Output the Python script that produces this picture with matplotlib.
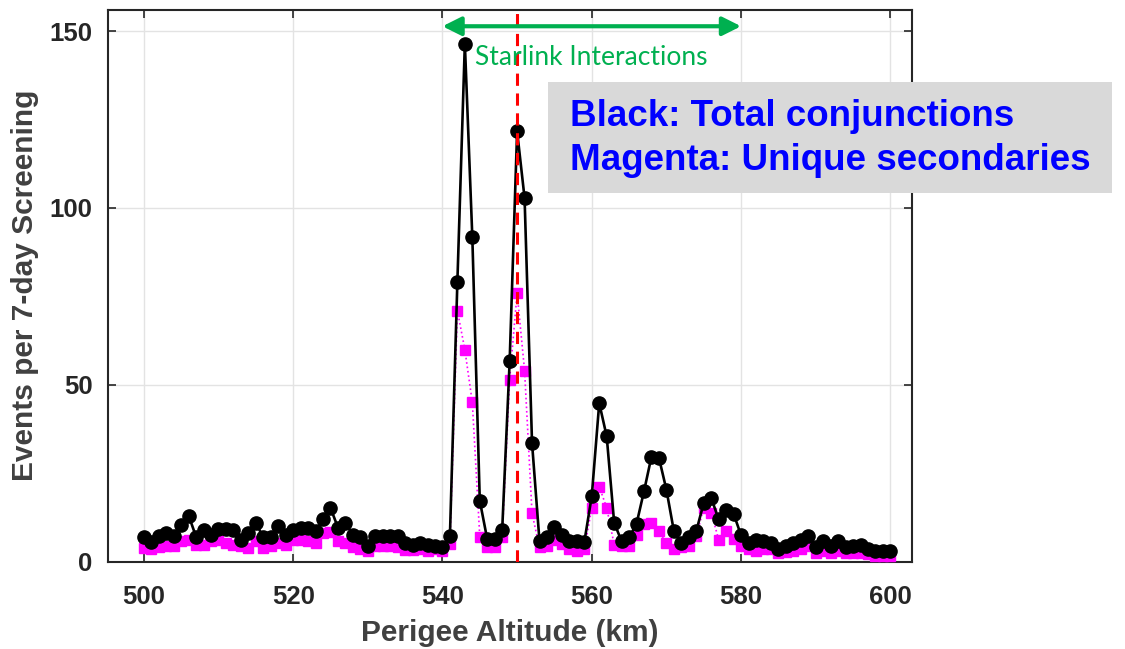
import numpy as np
import matplotlib
matplotlib.use('Agg')
import matplotlib.pyplot as plt
from matplotlib.patches import Rectangle

# altitudes (km), one point per km
altitude = np.arange(500, 601)

# total conjunctions (black)
total = [6.8, 5.5, 7.3, 8.2, 7.1, 10.2, 13.0, 7.0, 9.0, 7.6,
         9.3, 9.3, 9.0, 6.0, 8.2, 11.0, 6.8, 6.8, 10.0, 7.6,
         9.0, 9.6, 9.6, 8.6, 11.9, 15.2, 9.6, 11.0, 7.6, 6.8,
         4.5, 7.2, 7.2, 7.2, 7.2, 5.1, 4.8, 5.3, 4.8, 4.5,
         4.2, 7.2, 79.2, 146.5, 91.8, 17.2, 6.3, 6.3, 8.9, 56.6,
         121.7, 102.8, 33.5, 5.7, 6.8, 9.9, 7.4, 5.7, 5.7, 5.5,
         18.5, 44.8, 35.4, 11.0, 5.7, 6.8, 10.7, 19.9, 29.7, 29.3,
         20.3, 8.6, 5.1, 6.8, 8.6, 16.6, 18.0, 11.9, 14.7, 13.5,
         7.4, 5.1, 6.2, 5.7, 5.3, 3.4, 4.3, 5.3, 6.2, 7.2,
         4.0, 5.7, 4.5, 5.7, 4.0, 4.3, 4.8, 3.4, 3.1, 3.1,
         2.9]

# unique secondaries (magenta)
unique = [3.7, 3.4, 4.0, 4.3, 4.3, 5.7, 6.2, 4.8, 4.8, 5.7,
          6.2, 5.3, 4.8, 4.3, 3.9, 5.7, 3.9, 4.3, 5.3, 4.8,
          6.2, 6.2, 5.7, 5.3, 8.2, 8.4, 5.7, 5.3, 4.0, 3.4,
          3.0, 4.3, 4.3, 4.3, 4.0, 3.2, 3.2, 3.4, 3.0, 3.5,
          2.9, 5.0, 71.0, 59.9, 45.0, 7.0, 4.2, 4.2, 7.0, 51.4,
          75.9, 54.0, 13.6, 4.0, 4.3, 6.2, 5.0, 3.5, 3.0, 3.4,
          15.2, 21.2, 15.2, 4.8, 4.3, 4.3, 7.6, 10.5, 11.0, 8.6,
          5.3, 3.4, 4.0, 4.3, 7.2, 15.2, 13.8, 6.2, 8.6, 6.5,
          4.3, 3.4, 2.9, 3.4, 3.4, 2.5, 2.7, 3.0, 3.4, 4.3,
          2.5, 3.0, 2.5, 3.0, 2.3, 2.5, 2.5, 2.0, 1.7, 1.7,
          1.5]

x_ticks = [500, 520, 540, 560, 580, 600]
y_ticks = [0, 50, 100, 150]
starlink_range = (540, 580)
ref_alt = 550
note_lines = ['Black: Total conjunctions', 'Magenta: Unique secondaries']

W, H = 1125, 649
axcol = '#262626'
fig = plt.figure(figsize=(11.25, 6.49), dpi=100)
ax = fig.add_axes([0.096, 0.1348, 0.7147, 0.8498])

ax.plot(altitude, unique, ':', color='#ff00ff', lw=1.2, marker='s',
        markersize=7, markerfacecolor='#ff00ff', markeredgecolor='#ff00ff', zorder=3)
ax.plot(altitude, total, '-', color='black', lw=1.9, marker='o',
        markersize=9.5, markerfacecolor='black', zorder=4)
ax.axvline(ref_alt, color='#ff0000', lw=2.2, ls=(0, (4, 2.5)), zorder=5)

ax.set_xlim(495.2, 602.9)
ax.set_ylim(0, 156)
ax.set_xticks(x_ticks)
ax.set_yticks(y_ticks)
ax.grid(True, color='#e3e3e3', lw=1)
ax.set_axisbelow(True)
ax.tick_params(direction='in', length=6, width=1.2, colors=axcol,
               top=True, right=True, labelsize=18.5)
ax.tick_params(axis='x', pad=17)
ax.tick_params(axis='y', pad=11)
for lab in ax.get_xticklabels() + ax.get_yticklabels():
    lab.set_fontweight('bold')
    lab.set_family('Liberation Sans')
for sp in ax.spines.values():
    sp.set_color(axcol)
    sp.set_linewidth(1.5)

ax.set_xlabel('Perigee Altitude (km)', fontsize=21.5, fontweight='bold',
              family='Liberation Sans', color='#404040', labelpad=7)
ax.set_ylabel('Events per 7-day Screening', fontsize=21.5, fontweight='bold',
              family='Liberation Sans', color='#404040', labelpad=8)

# Starlink arrow and label
ax.annotate('', xy=(starlink_range[0], 151.4), xytext=(starlink_range[1], 151.4),
            arrowprops=dict(arrowstyle='<|-|>', color='#00b050', lw=3,
                            mutation_scale=28, shrinkA=0, shrinkB=0),
            annotation_clip=False, zorder=6)
ax.text(544.3, 142.5, 'Starlink Interactions', color='#00b050', fontsize=19,
        family='Lato', va='center', ha='left', zorder=6)

# gray note box
fig.patches.append(Rectangle((548 / W, 1 - 193 / H), (1112 - 548) / W, (193 - 82) / H,
                             transform=fig.transFigure, facecolor='#d9d9d9',
                             edgecolor='none', zorder=7))
for line, yc in zip(note_lines, [116, 160]):
    fig.text(570 / W, 1 - yc / H, line, color='#0000ff', fontsize=26.5,
             fontweight='bold', family='Liberation Sans', va='center', ha='left',
             zorder=8)

fig.savefig('out.png', dpi=100)
